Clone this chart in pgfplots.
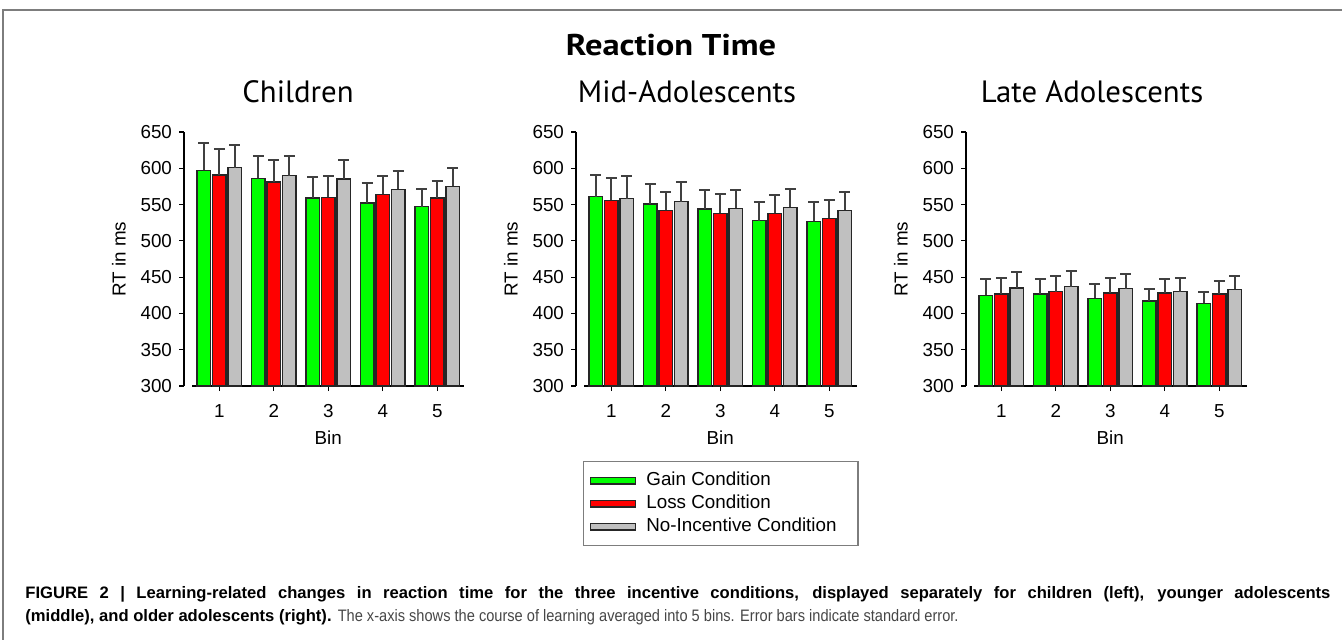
\documentclass[border=0pt]{standalone}
\usepackage{pgfplots}
\pgfplotsset{compat=1.18}
\usepackage{pgfplotstable}
\usepackage{fontspec}
\setmainfont{Liberation Sans}
\newfontfamily\headfont{PT Sans}
\newfontfamily\titlefont[FakeStretch=1.15]{PT Sans}
\newfontfamily\narrowfont[FakeStretch=0.88]{Liberation Sans}

\definecolor{gaingreen}{RGB}{0,255,0}
\definecolor{lossred}{RGB}{255,0,0}
\definecolor{nogray}{RGB}{192,192,192}
\definecolor{errgray}{RGB}{64,64,64}
\definecolor{framegray}{RGB}{125,125,125}
\definecolor{captext}{RGB}{70,70,70}

% mean RT and standard error (upper bar length), per bin
\pgfplotstableread{
bin G   Ge  R   Re  N   Ne
1   597 38  591 36  601 31
2   586 31  581 31  590 27
3   559 29  560 29  585 26
4   552 28  564 25  571 25
5   547 24  559 24  575 26
}\childtab
\pgfplotstableread{
bin G   Ge  R   Re  N   Ne
1   561 30  556 31  558 31
2   551 27  542 26  554 27
3   544 26  538 26  545 25
4   528 25  538 25  546 26
5   527 26  531 25  542 26
}\midtab
\pgfplotstableread{
bin G   Ge  R   Re  N   Ne
1   425 22  427 22  435 22
2   427 21  430 22  437 22
3   421 19  428 21  434 20
4   417 16  428 19  430 19
5   414 16  427 18  433 18
}\latetab

\newcommand{\lblfont}{\fontsize{9.4}{11}\selectfont}

\pgfplotsset{
  rtpanel/.style={
    scale only axis, width=136.25pt, height=127pt,
    xmin=0.5, xmax=5.5, ymin=300, ymax=650,
    ybar=1.15pt, bar width=6.6pt,
    axis lines=left, axis y line shift=4pt,
    axis line style={-, line width=1pt},
    xtick={1,...,5}, ytick={300,350,...,650},
    tick align=outside, major tick length=2.5pt,
    tick style={line width=0.6pt, black},
    ticklabel style={font=\lblfont},
    xticklabel style={yshift=-3pt},
    /pgf/number format/assume math mode=true,
    xlabel={Bin}, ylabel={RT in ms},
    label style={font=\lblfont},
    ylabel style={at={(axis description cs:-0.268,0.5)}, anchor=center},
    xlabel style={at={(axis description cs:0.5,-0.205)}, anchor=center},
    legend image code/.code={\draw[##1] (0pt,-1.7pt) rectangle (22.5pt,1.7pt); \path (26.5pt,0pt);},
  },
  rtbar/.style={draw=black!85, line width=0.7pt,
    error bars/.cd, y dir=plus, y explicit,
    error bar style={line width=1pt, errgray},
    error mark options={rotate=90, line width=1pt, errgray, mark size=2.75pt},
    /pgfplots/.cd},
}

\begin{document}
\begin{tikzpicture}
\useasboundingbox (0pt,0pt) rectangle (671pt,-319.5pt);
\draw[framegray, line width=0.75pt] (1.5pt,-320pt) -- (1.5pt,-5pt) -- (672pt,-5pt);

\node[font=\titlefont\bfseries\fontsize{15}{18}\selectfont] at (335.5pt,-22.5pt) {Reaction Time};
\node[font=\headfont\fontsize{15.4}{18}\selectfont] at (149pt,-46pt) {Children};
\node[font=\headfont\fontsize{15.4}{18}\selectfont] at (343.5pt,-46pt) {Mid-Adolescents};
\node[font=\headfont\fontsize{15.4}{18}\selectfont] at (546pt,-46pt) {Late Adolescents};

\begin{axis}[rtpanel, at={(96pt,-193pt)}, anchor=south west]
\addplot[fill=gaingreen, rtbar] table[x=bin, y=G, y error=Ge] {\childtab};
\addplot[fill=lossred, rtbar] table[x=bin, y=R, y error=Re] {\childtab};
\addplot[fill=nogray, rtbar] table[x=bin, y=N, y error=Ne] {\childtab};
\end{axis}

\begin{axis}[rtpanel, at={(292pt,-193pt)}, anchor=south west,
  legend cell align=left,
  legend style={at={(axis description cs:0,0)}, anchor=north west, xshift=-0.5pt, yshift=-37.5pt,
    draw=framegray, line width=0.6pt, font=\lblfont, inner xsep=3pt, inner ysep=4pt,
    row sep=0.4pt, nodes={inner sep=1.2pt, text height=6.8pt, text depth=1.9pt}}]
\addplot[fill=gaingreen, rtbar] table[x=bin, y=G, y error=Ge] {\midtab};
\addlegendentry{Gain Condition}
\addplot[fill=lossred, rtbar] table[x=bin, y=R, y error=Re] {\midtab};
\addlegendentry{Loss Condition}
\addplot[fill=nogray, rtbar] table[x=bin, y=N, y error=Ne] {\midtab};
\addlegendentry{No-Incentive Condition\rule{6.5pt}{0pt}}
\end{axis}

\begin{axis}[rtpanel, at={(487pt,-193pt)}, anchor=south west]
\addplot[fill=gaingreen, rtbar] table[x=bin, y=G, y error=Ge] {\latetab};
\addplot[fill=lossred, rtbar] table[x=bin, y=R, y error=Re] {\latetab};
\addplot[fill=nogray, rtbar] table[x=bin, y=N, y error=Ne] {\latetab};
\end{axis}

\node[anchor=base west, font=\bfseries\fontsize{8.3}{10}\selectfont, inner sep=0pt] at (12.5pt,-299pt)
  {\makebox[652.5pt][s]{FIGURE 2 | Learning-related changes in reaction time for the three incentive conditions, displayed separately for children (left), younger adolescents}};
\node[anchor=base west, font=\fontsize{8.3}{10}\selectfont, inner sep=0pt] at (12.5pt,-310.5pt)
  {\textbf{(middle), and older adolescents (right).} \textcolor{captext}{\narrowfont The x-axis shows the course of learning averaged into 5 bins. Error bars indicate standard error.}};
\end{tikzpicture}
\end{document}
